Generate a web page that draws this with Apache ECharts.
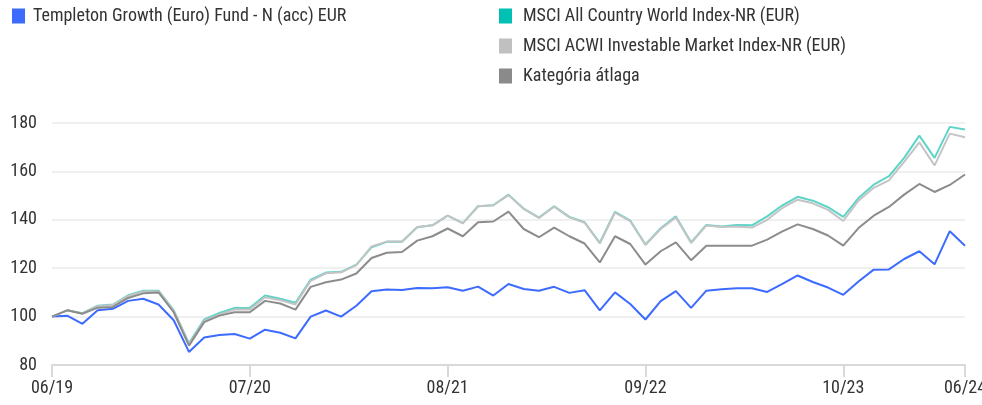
<!DOCTYPE html>
<html>
<head>
<meta charset="UTF-8">
<title>Templeton Growth (Euro) Fund</title>
<script src="https://cdn.jsdelivr.net/npm/echarts@6/dist/echarts.min.js"></script>
<style>
  html, body { margin: 0; padding: 0; background: #fff; }
  #chart { width: 982px; height: 405px; }
</style>
</head>
<body>
<div id="chart"></div>
<script>
var months = [
  '06/19','07/19','08/19','09/19','10/19','11/19','12/19','01/20','02/20','03/20','04/20','05/20','06/20',
  '07/20','08/20','09/20','10/20','11/20','12/20','01/21','02/21','03/21','04/21','05/21','06/21','07/21',
  '08/21','09/21','10/21','11/21','12/21','01/22','02/22','03/22','04/22','05/22','06/22','07/22','08/22',
  '09/22','10/22','11/22','12/22','01/23','02/23','03/23','04/23','05/23','06/23','07/23','08/23','09/23',
  '10/23','11/23','12/23','01/24','02/24','03/24','04/24','05/24','06/24'
];
var tickLabels = ['06/19', '07/20', '08/21', '09/22', '10/23', '06/24'];

var names = [
  'Templeton Growth (Euro) Fund - N (acc) EUR',
  'MSCI All Country World Index-NR (EUR)',
  'MSCI ACWI Investable Market Index-NR (EUR)',
  'Kategória átlaga'
];

var fund = [100, 100.4, 97, 102.6, 103.2, 106.5, 107.4, 105, 98.5, 85.4, 91.4, 92.4, 92.8,
  90.9, 94.6, 93.3, 91, 100, 102.5, 100, 104.5, 110.5, 111.2, 111, 111.8, 111.7,
  112.1, 110.7, 112.4, 108.7, 113.5, 111.4, 110.7, 112.3, 109.8, 110.9, 102.6, 110, 105.2,
  98.8, 106.4, 110.5, 103.6, 110.7, 111.3, 111.7, 111.7, 110.2, 113.5, 117, 114.3, 112,
  109, 114.5, 119.4, 119.5, 123.8, 127, 121.6, 135.3, 129.3];

var acwi = [100, 102.6, 101.4, 104.5, 105, 108.8, 110.7, 110.7, 102.6, 89, 98.8, 101.5, 103.6,
  103.6, 108.7, 107.4, 105.7, 115.3, 118.2, 118.5, 121.5, 128.6, 130.9, 130.9, 136.9, 137.7,
  141.7, 138.6, 145.6, 146, 150.4, 144.6, 140.9, 145.6, 141.2, 139, 130.5, 143.3, 139.7,
  129.8, 136.5, 141.4, 130.7, 137.9, 137.2, 137.9, 137.7, 141.4, 146, 149.5, 147.9, 145.2,
  141.2, 149, 154.5, 158, 165.6, 174.8, 165.6, 178.4, 177.3];

var acwiImi = [100, 102.6, 101.3, 104.3, 104.8, 108.5, 110.4, 110.4, 102.3, 88.6, 98.2, 100.9, 102.9,
  102.9, 108, 106.8, 105, 114.8, 117.9, 118.3, 121.3, 129, 131, 131, 137, 137.7,
  141.7, 138.5, 145.6, 146, 150.2, 144.5, 140.8, 145.4, 141, 138.8, 130.2, 143, 139.4,
  129.6, 136.2, 141, 130.4, 137.6, 137, 137.2, 136.8, 140, 144.9, 148.3, 146.8, 144.1,
  139.5, 147.9, 153.2, 156.3, 163.9, 172, 162.5, 175.6, 174.1];

var category = [100, 102.6, 101.2, 103.7, 104, 107.7, 109.6, 110, 101.8, 88, 97.7, 100.4, 101.8,
  101.8, 106.5, 105.4, 102.9, 112.3, 114.2, 115.3, 117.8, 124.2, 126.4, 126.7, 131.4, 133.2,
  136.4, 133.2, 139, 139.3, 143.4, 136.2, 132.8, 136.8, 133.2, 130.2, 122.4, 133.2, 130,
  121.5, 127, 130.7, 123.3, 129.3, 129.3, 129.3, 129.3, 131.8, 135.2, 138.1, 136.2, 133.5,
  129.3, 136.6, 141.7, 145.3, 150.4, 154.8, 151.5, 154.4, 158.7];

var font = "'Liberation Sans Narrow', 'Roboto Condensed', Roboto, sans-serif";

function showTick(idx, val) {
  return tickLabels.indexOf(val) !== -1;
}

function line(name, data, color, lineColor) {
  return {
    name: name,
    type: 'line',
    data: data,
    symbol: 'none',
    smooth: false,
    itemStyle: { color: color },
    lineStyle: { color: lineColor, width: 2 },
    emphasis: { disabled: true }
  };
}

var myChart = echarts.init(document.getElementById('chart'));
var option = {
  animation: false,
  textStyle: { fontFamily: font },
  legend: [{
    data: [names[0]],
    left: 7,
    top: 2,
    icon: 'rect',
    itemWidth: 13,
    itemHeight: 15,
    selectedMode: false,
    textStyle: { fontSize: 18, color: '#333', fontFamily: font, padding: [0, 0, 0, 3] }
  }, {
    data: [names[1], names[2], names[3]],
    left: 494,
    top: 2,
    orient: 'vertical',
    icon: 'rect',
    itemWidth: 13,
    itemHeight: 15,
    itemGap: 12,
    selectedMode: false,
    textStyle: { fontSize: 18, color: '#333', fontFamily: font, padding: [0, 0, 0, 6] }
  }],
  grid: { left: 52, right: 17, top: 123, bottom: 40, outerBoundsMode: 'none', containLabel: false },
  xAxis: {
    type: 'category',
    data: months,
    boundaryGap: false,
    axisLine: { lineStyle: { color: '#d9d9d9', width: 2 } },
    axisTick: { show: true, interval: showTick, length: 12, lineStyle: { color: '#d9d9d9', width: 2 } },
    axisLabel: { interval: showTick, margin: 14, fontSize: 18, color: '#333', fontFamily: font },
    splitLine: { show: false }
  },
  yAxis: {
    type: 'value',
    min: 80,
    max: 180,
    interval: 20,
    axisLine: { show: false },
    axisTick: { show: false },
    axisLabel: { margin: 15, fontSize: 18, color: '#333', fontFamily: font },
    splitLine: { lineStyle: { color: '#f0f0f0', width: 2 } }
  },
  series: [
    line(names[0], fund, '#3d6bff', '#3d6bff'),
    line(names[1], acwi, '#00bfb3', '#5ed4c9'),
    line(names[2], acwiImi, '#c0c0c0', '#c4c4c4'),
    line(names[3], category, '#8a8a8a', '#8c8c8c')
  ]
};
myChart.setOption(option);
</script>
</body>
</html>
